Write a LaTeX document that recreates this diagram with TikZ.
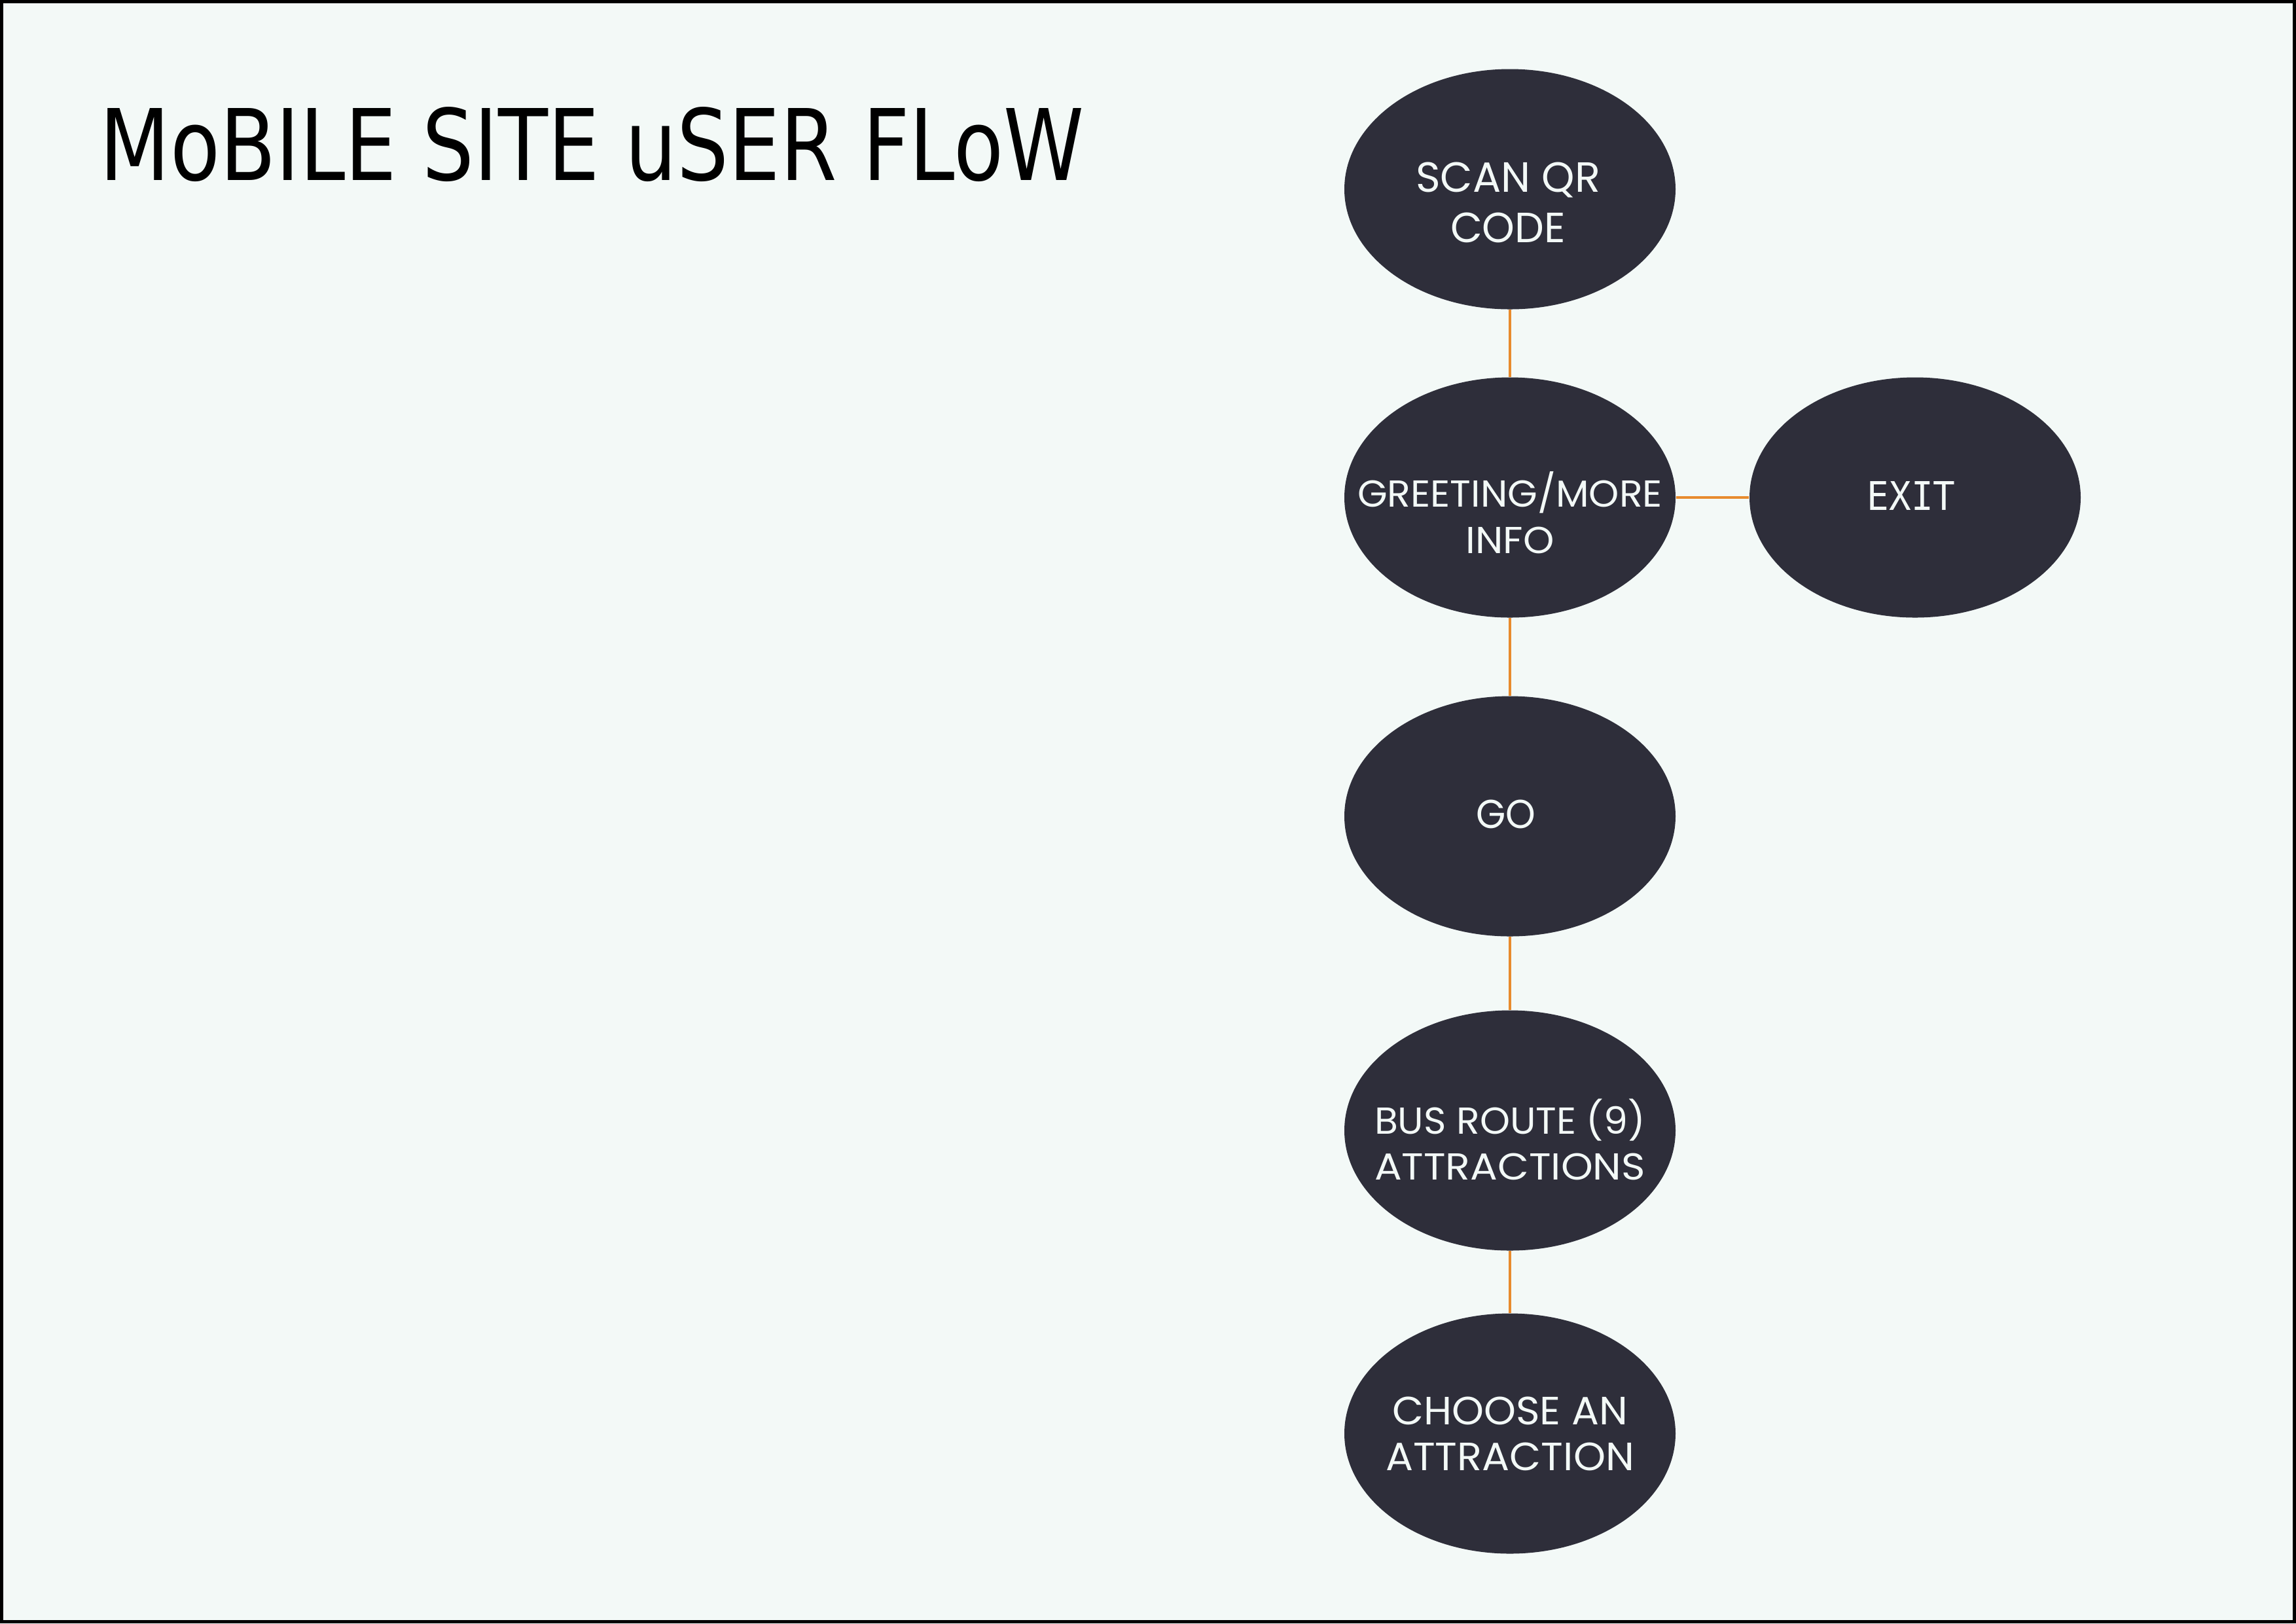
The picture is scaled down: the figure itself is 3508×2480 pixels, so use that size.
\documentclass[tikz,border=0pt]{standalone}
\usepackage{fontspec}
\usepackage{graphicx}
\usetikzlibrary{shapes.geometric}
\newfontfamily\nodefont{Poppins}
\newfontfamily\exitfont{DejaVu Sans Mono}
\newfontfamily\titlefont{DejaVu Sans}
\definecolor{bgc}{HTML}{F3F9F7}
\definecolor{blobc}{HTML}{2E2E3A}
\definecolor{linec}{HTML}{E88B2E}
\definecolor{txtc}{HTML}{F3F9F7}
\newlength\px
\setlength\px{0.01cm}
\newcommand\fitline[3]{\resizebox{#1\px}{#2\px}{\smash{#3}\vphantom{H}}}
\newcommand\twoline[7]{\vbox{\baselineskip=#7\px\lineskip=0pt\lineskiplimit=0pt\halign{\hfil##\hfil\cr\fitline{#1}{#2}{#3}\cr\fitline{#4}{#5}{#6}\cr}}}
\begin{document}
\begin{tikzpicture}[x=0.01cm,y=-0.01cm,
  blob/.style={ellipse, fill=blobc, draw=none, minimum width=506\px, minimum height=367\px, inner sep=0pt},
  lbl/.style={inner sep=0pt, text=txtc, font=\nodefont},
  conn/.style={draw=linec, line width=4\px}]
\useasboundingbox (0,0) rectangle (3508,2480);
\fill[bgc] (0,0) rectangle (3508,2480);
\draw[black, line width=5\px] (2.5,2.5) rectangle (3505.5,2477.5);
\node[anchor=base west, inner sep=0pt] (title) at (152,275) {\resizebox{1503\px}{112\px}{\titlefont MoBILE SITE uSER FLoW}};
\node[blob, label={[lbl, xshift=-3\px, yshift=-20\px]center:\twoline{282}{45}{SCAN QR}{176}{45}{CODE}{77}}] (scan) at (2307,289) {};
\node[blob, label={[lbl, yshift=-30\px]center:\twoline{466}{40}{GREETING/MORE}{135}{40}{INFO}{71}}] (greet) at (2307,760) {};
\node[blob, label={[lbl, xshift=-6\px, yshift=3\px]center:\fitline{91}{43}{GO}}] (go) at (2307,1247) {};
\node[blob, label={[lbl, yshift=-20\px]center:\twoline{414}{40}{BUS ROUTE (9)}{414}{40}{ATTRACTIONS}{70}}] (bus) at (2307,1727) {};
\node[blob, label={[lbl]center:\twoline{360}{42}{CHOOSE AN}{380}{42}{ATTRACTION}{70}}] (choose) at (2307,2190) {};
\node[blob, label={[lbl, font=\exitfont, xshift=-6\px, yshift=3\px]center:\fitline{135}{44}{EXIT}}] (exit) at (2926,760) {};
\draw[conn] (scan) -- (greet);
\draw[conn] (greet) -- (go);
\draw[conn] (go) -- (bus);
\draw[conn] (bus) -- (choose);
\draw[conn] (greet) -- (exit);
\end{tikzpicture}
\end{document}
